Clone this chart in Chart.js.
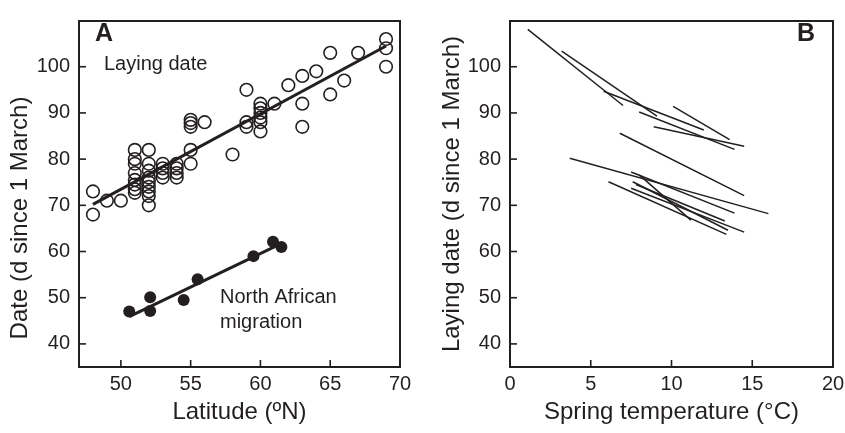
<!DOCTYPE html>
<html>
<head>
<meta charset="utf-8">
<script src="https://cdn.jsdelivr.net/npm/chart.js@4.4.0/dist/chart.umd.min.js"></script>
<style>
  body { margin: 0; background: #fff; }
  #chartA { position: absolute; left: 0; top: 0; }
  #chartB { position: absolute; left: 430px; top: 0; }
</style>
</head>
<body>
<canvas id="chartA" width="430" height="433"></canvas>
<canvas id="chartB" width="415" height="433"></canvas>
<script>
// Panel A: laying date vs latitude (open circles)
const layLat  = [48, 48, 49, 50,
  51, 51, 51, 51, 51, 51, 51, 51,
  52, 52, 52, 52, 52, 52, 52, 52, 52,
  53, 53, 53, 53,
  54, 54, 54, 54,
  55, 55, 55, 55, 55,
  56, 58, 59, 59, 59,
  60, 60, 60, 60, 60, 60,
  61, 62, 63, 63, 63, 64, 65, 65, 66, 67, 69, 69, 69];
const layDate = [73, 68, 71, 71,
  82, 80, 79, 77, 75.5, 74.5, 73.5, 72.7,
  82, 79, 77.5, 76, 75, 74, 73, 72, 70,
  79, 78, 77, 76,
  79, 78, 77, 76,
  88.5, 87.8, 87, 82, 79,
  88, 81, 95, 88, 87,
  92, 91, 90, 89, 88, 86,
  92, 96, 98, 92, 87, 99, 103, 94, 97, 103, 106, 104, 100];
const layFitLat  = [48, 69];
const layFitDate = [70.2, 104.5];

// Panel A: North African migration (filled circles)
const migLat  = [50.6, 52.1, 52.1, 54.5, 55.5, 59.5, 60.9, 61.5];
const migDate = [47, 50.1, 47.1, 49.5, 54, 59, 62.1, 61];
const migFitLat  = [50.6, 61.4];
const migFitDate = [45.9, 61.6];

// Panel B: one segment per population, laying date vs spring temperature
const tempStart = [1.1, 3.2, 5.8, 8.0, 10.1, 8.9, 6.8, 3.7, 6.1, 7.5, 8.0, 7.5, 7.6, 7.8];
const dateStart = [108.1, 103.4, 94.7, 90.2, 91.4, 87.0, 85.6, 80.2, 75.1, 77.2, 76.6, 73.7, 75.1, 74.5];
const tempEnd   = [7.0, 9.1, 12.0, 13.9, 13.6, 14.5, 14.5, 16.0, 13.4, 13.9, 11.2, 14.5, 13.5, 13.3];
const dateEnd   = [91.6, 89.3, 86.3, 82.1, 84.2, 82.8, 72.1, 68.2, 63.7, 68.3, 66.8, 64.2, 64.6, 66.6];

const yTicks = [40, 50, 60, 70, 80, 90, 100];

const ink = '#231f20';
const fontFam = '"Liberation Sans", Arial, Helvetica, sans-serif';

function pts(xs, ys) {
    return xs.map((x, i) => ({ x: x, y: ys[i] }));
}

// frame, inward ticks and free text
const framePlugin = {
    id: 'frame',
    afterDraw(chart, args, opts) {
        const ctx = chart.ctx;
        const a = chart.chartArea;
        const xs = chart.scales.x, ys = chart.scales.y;
        ctx.save();
        ctx.strokeStyle = ink;
        ctx.lineWidth = 1.6;
        xs.ticks.forEach(t => {
            const px = xs.getPixelForValue(t.value);
            ctx.beginPath();
            ctx.moveTo(px, a.bottom);
            ctx.lineTo(px, a.bottom - 7);
            ctx.stroke();
        });
        ys.ticks.forEach(t => {
            const py = ys.getPixelForValue(t.value);
            ctx.beginPath();
            ctx.moveTo(a.left, py);
            ctx.lineTo(a.left + 7, py);
            ctx.stroke();
        });
        ctx.lineWidth = 2;
        ctx.strokeRect(a.left, a.top, a.right - a.left, a.bottom - a.top);
        ctx.fillStyle = ink;
        ctx.textBaseline = 'middle';
        (opts.texts || []).forEach(t => {
            ctx.save();
            ctx.font = (t.bold ? 'bold ' : '') + t.size + 'px ' + fontFam;
            ctx.textAlign = t.align || 'left';
            ctx.translate(t.x, t.y);
            if (t.rotate) ctx.rotate(-Math.PI / 2);
            ctx.fillText(t.text, 0, 0);
            ctx.restore();
        });
        ctx.restore();
    }
};

function makeOptions(cfg) {
    return {
        responsive: false,
        animation: false,
        layout: { padding: { top: 11, right: cfg.padRight, left: 0, bottom: 0 } },
        plugins: {
            legend: { display: false },
            tooltip: { enabled: false },
            frame: { texts: cfg.texts }
        },
        scales: {
            x: {
                type: 'linear',
                min: cfg.xMin,
                max: cfg.xMax,
                afterFit: s => {
                    s.height = 66;
                    s.paddingLeft = 0;
                    s.paddingRight = 0;
                },
                grid: { display: false, drawTicks: false },
                border: { display: false },
                ticks: {
                    stepSize: 5,
                    includeBounds: false,
                    padding: 5,
                    color: ink,
                    font: { family: fontFam, size: 20 }
                },
                title: {
                    display: true,
                    text: cfg.xTitle,
                    color: ink,
                    padding: { top: 0, bottom: 6 },
                    font: { family: fontFam, size: 24 }
                }
            },
            y: {
                type: 'linear',
                min: 35,
                max: 109.9,
                afterFit: s => { s.width = cfg.yWidth; },
                afterBuildTicks: s => { s.ticks = yTicks.map(v => ({ value: v })); },
                grid: { display: false, drawTicks: false },
                border: { display: false },
                ticks: {
                    padding: 9,
                    color: ink,
                    font: { family: fontFam, size: 20 }
                },
                title: {
                    display: !!cfg.yTitle,
                    text: cfg.yTitle || '',
                    color: ink,
                    padding: { top: cfg.yTitlePad, bottom: 0 },
                    font: { family: fontFam, size: 24 }
                }
            }
        }
    };
}

new Chart(document.getElementById('chartA'), {
    type: 'scatter',
    data: {
        datasets: [
            {
                type: 'line',
                data: pts(layFitLat, layFitDate),
                borderColor: ink,
                borderWidth: 3,
                pointRadius: 0
            },
            {
                type: 'line',
                data: pts(migFitLat, migFitDate),
                borderColor: ink,
                borderWidth: 3,
                pointRadius: 0
            },
            {
                data: pts(layLat, layDate),
                pointRadius: 6.3,
                pointBorderWidth: 1.6,
                pointBorderColor: ink,
                pointBackgroundColor: 'rgba(0,0,0,0)'
            },
            {
                data: pts(migLat, migDate),
                pointRadius: 6,
                pointBorderWidth: 0,
                pointBackgroundColor: ink
            }
        ]
    },
    options: makeOptions({
        xMin: 47, xMax: 70, padRight: 30, yWidth: 79,
        xTitle: 'Latitude (ºN)',
        yTitle: null,
        texts: [
            { text: 'Date (d since 1 March)', x: 20, y: 218, size: 24, rotate: true, align: 'center' },
            { text: 'A', x: 95, y: 34, size: 25, bold: true },
            { text: 'Laying date', x: 104, y: 64, size: 20 },
            { text: 'North African', x: 220, y: 297, size: 20 },
            { text: 'migration', x: 220, y: 322, size: 20 }
        ]
    }),
    plugins: [framePlugin]
});

const segs = tempStart.map((t, i) => ({
    type: 'line',
    data: pts([t, tempEnd[i]], [dateStart[i], dateEnd[i]]),
    borderColor: ink,
    borderWidth: 1.5,
    pointRadius: 0
}));

new Chart(document.getElementById('chartB'), {
    type: 'scatter',
    data: { datasets: segs },
    options: makeOptions({
        xMin: 0, xMax: 20, padRight: 12, yWidth: 80, yTitlePad: 8,
        xTitle: 'Spring temperature (°C)',
        yTitle: 'Laying date (d since 1 March)',
        texts: [
            { text: 'B', x: 367, y: 34, size: 25, bold: true }
        ]
    }),
    plugins: [framePlugin]
});
</script>
</body>
</html>
